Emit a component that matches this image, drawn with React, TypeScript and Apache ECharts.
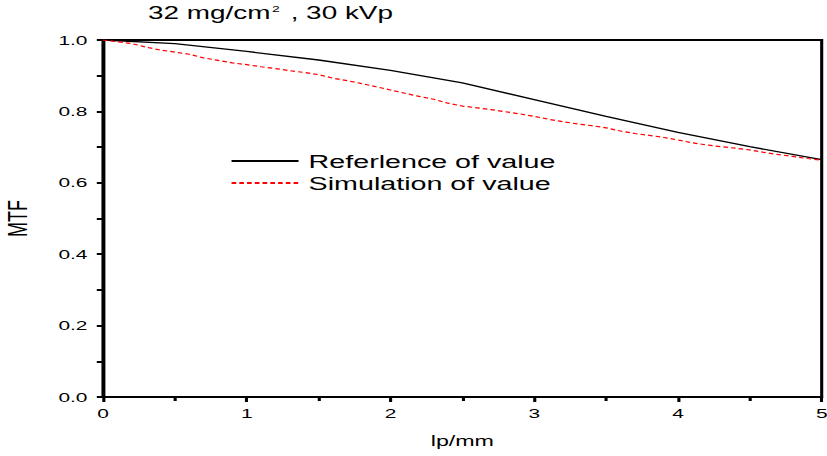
import React, { useEffect, useRef } from "react";
import * as echarts from "echarts";

// Spatial frequency (lp/mm) and MTF readings
const refFreq = [0, 0.5, 1, 1.5, 2, 2.5, 3, 3.5, 4, 4.5, 5];
const refMtf = [1.0, 0.99, 0.968, 0.944, 0.915, 0.88, 0.833, 0.786, 0.741, 0.701, 0.665];

const simFreq = [
  0, 0.1, 0.2, 0.3, 0.4, 0.5, 0.6, 0.7, 0.8, 0.9, 1.0, 1.1, 1.2, 1.3, 1.4, 1.5, 1.6,
  1.7, 1.8, 1.9, 2.0, 2.1, 2.2, 2.3, 2.4, 2.5, 2.6, 2.7, 2.8, 2.9, 3.0, 3.1, 3.2, 3.3,
  3.4, 3.5, 3.6, 3.7, 3.8, 3.9, 4.0, 4.1, 4.2, 4.3, 4.4, 4.5, 4.6, 4.7, 4.8, 4.9, 5.0,
];
const simMtf = [
  1.0, 0.995, 0.99, 0.98, 0.972, 0.966, 0.96, 0.95, 0.943, 0.936, 0.931, 0.925, 0.92,
  0.914, 0.909, 0.903, 0.893, 0.886, 0.878, 0.869, 0.86, 0.851, 0.842, 0.834, 0.823,
  0.815, 0.81, 0.805, 0.799, 0.793, 0.786, 0.778, 0.771, 0.765, 0.76, 0.754, 0.745,
  0.738, 0.733, 0.727, 0.72, 0.712, 0.706, 0.701, 0.697, 0.692, 0.685, 0.679, 0.674,
  0.668, 0.663,
];

const seriesNames = ["Referlence of value", "Simulation of value"];
const titleText = "32 mg/cm";
const xName = "lp/mm";
const yName = "MTF";

const FONT = "Liberation Sans, Arial, sans-serif";

// The figure is laid out on a narrower canvas and widened horizontally,
// which gives the wide lettering and the heavier vertical strokes.
const STRETCH = 1.55;
const FULL_W = 827;
const FULL_H = 456;
const W = FULL_W / STRETCH;

export default function App() {
  const ref = useRef<HTMLDivElement>(null);

  useEffect(() => {
    if (!ref.current) return;
    const chart = echarts.init(ref.current, null, { renderer: "svg" });
    const pairs = (xs: number[], ys: number[]) => xs.map((x, i) => [x, ys[i]]);

    chart.setOption({
      animation: false,
      backgroundColor: "#ffffff",
      title: {
        text: `${titleText}{sup|2} , 30 kVp`,
        left: 148 / STRETCH,
        top: 4,
        padding: 0,
        textStyle: {
          fontFamily: FONT,
          fontSize: 18,
          fontWeight: "normal",
          color: "#000",
          rich: {
            sup: {
              fontFamily: FONT,
              fontSize: 9,
              verticalAlign: "top",
              padding: [0, 2, 9, 1],
              color: "#000",
            },
          },
        },
      },
      legend: {
        orient: "vertical",
        left: 230 / STRETCH,
        top: 151,
        padding: 0,
        itemWidth: 67 / STRETCH,
        itemHeight: 14,
        itemGap: 2,
        itemStyle: { opacity: 0 },
        textStyle: {
          fontFamily: FONT,
          fontSize: 18.5,
          lineHeight: 20,
          color: "#000",
          padding: [0, 0, 0, 1.5],
        },
        data: seriesNames,
      },
      grid: {
        left: 103 / STRETCH,
        right: 6 / STRETCH,
        top: 40,
        bottom: 59,
        outerBoundsMode: "none",
        containLabel: false,
        show: true,
        borderColor: "#000",
        borderWidth: 2,
      },
      xAxis: {
        type: "value",
        min: 0,
        max: 5,
        interval: 1,
        name: xName,
        nameLocation: "middle",
        nameGap: 36,
        nameTextStyle: { fontFamily: FONT, fontSize: 15, color: "#000" },
        axisLine: { lineStyle: { color: "#000", width: 2 } },
        axisTick: { show: true, length: 5, lineStyle: { color: "#000", width: 2 } },
        minorTick: { show: true, splitNumber: 2, length: 4, lineStyle: { color: "#000", width: 2 } },
        splitLine: { show: false },
        axisLabel: { fontFamily: FONT, fontSize: 13.5, color: "#000", margin: 9 },
      },
      yAxis: {
        type: "value",
        min: 0,
        max: 1,
        interval: 0.2,
        name: yName,
        nameLocation: "middle",
        nameGap: 46,
        nameTextStyle: { fontFamily: FONT, fontSize: 18, color: "#000" },
        axisLine: { lineStyle: { color: "#000", width: 2 } },
        axisTick: { show: true, length: 4, lineStyle: { color: "#000", width: 2 } },
        minorTick: { show: true, splitNumber: 2, length: 4, lineStyle: { color: "#000", width: 2 } },
        splitLine: { show: false },
        axisLabel: {
          fontFamily: FONT,
          fontSize: 13.5,
          color: "#000",
          margin: 10,
          formatter: (v: number) => v.toFixed(1),
        },
      },
      series: [
        {
          name: seriesNames[0],
          type: "line",
          data: pairs(refFreq, refMtf),
          symbol: "none",
          lineStyle: { color: "#000", width: 1.3 },
          itemStyle: { color: "#000" },
        },
        {
          name: seriesNames[1],
          type: "line",
          data: pairs(simFreq, simMtf),
          symbol: "none",
          lineStyle: { color: "#ff0000", width: 1.2, type: [3, 2] },
          itemStyle: { color: "#ff0000" },
        },
      ],
    });

    return () => chart.dispose();
  }, []);

  return (
    <div
      style={{
        position: "fixed",
        left: 0,
        top: 0,
        width: FULL_W,
        height: FULL_H,
        overflow: "hidden",
        background: "#fff",
      }}
    >
      <div
        ref={ref}
        style={{
          width: W,
          height: FULL_H,
          transform: `scaleX(${STRETCH})`,
          transformOrigin: "0 0",
        }}
      />
    </div>
  );
}
